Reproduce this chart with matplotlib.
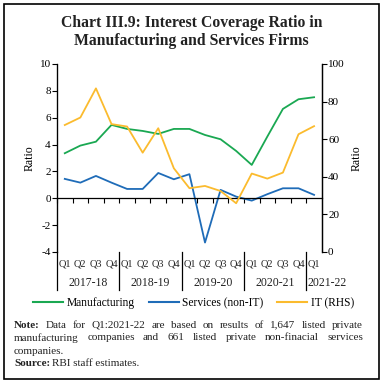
import numpy as np
import matplotlib
matplotlib.use("Agg")
import matplotlib.pyplot as plt
from matplotlib.patches import Rectangle
from matplotlib.lines import Line2D

plt.rcParams['font.family'] = ['Liberation Serif', 'DejaVu Serif']
plt.rcParams['axes.unicode_minus'] = False

# quarterly data, Q1 2017-18 .. Q1 2021-22
quarters = ['Q1', 'Q2', 'Q3', 'Q4'] * 4 + ['Q1']
years = ['2017-18', '2018-19', '2019-20', '2020-21', '2021-22']
manufacturing = [3.35, 3.92, 4.21, 5.46, 5.16, 5.01, 4.79, 5.16, 5.16,
                 4.71, 4.39, 3.52, 2.48, 4.59, 6.65, 7.37, 7.52]
services = [1.44, 1.16, 1.66, 1.16, 0.69, 0.69, 1.88, 1.41, 1.79,
            -3.3, 0.62, 0.12, -0.18, 0.3, 0.74, 0.74, 0.25]
it_rhs = [67.5, 71.5, 87.0, 68.0, 66.7, 52.8, 65.8, 44.5, 33.9,
          35.1, 32.4, 25.9, 41.7, 39.0, 42.2, 62.6, 66.9]

green = '#1aa852'
blue = '#1f6cb8'
yellow = '#fbbb2e'

fig = plt.figure(figsize=(3.85, 3.87), dpi=100)
fig.patches.append(Rectangle((0.0104, 0.0207), 0.974, 0.969, transform=fig.transFigure,
                             fill=False, edgecolor='black', linewidth=1.2))

fig.text(0.497, 0.918, 'Chart III.9: Interest Coverage Ratio in\nManufacturing and Services Firms',
         ha='center', va='center', fontsize=11.3, fontweight='bold', color='#222222',
         linespacing=1.15)

ax = fig.add_axes([0.148, 0.349, 0.688, 0.4858])
x = np.arange(len(quarters))
ax.plot(x, manufacturing, color=green, lw=1.3)
ax.plot(x, services, color=blue, lw=1.3)
ax.set_xlim(-0.5, len(quarters) - 0.5)
ax.set_ylim(-4, 10)
ax.set_yticks(range(-4, 11, 2))
ax.spines['top'].set_visible(False)
ax.spines['bottom'].set_position(('data', 0))
ax.set_xticks(np.arange(-0.5, len(quarters) - 1, 1))
ax.set_xticklabels([])
ax.tick_params(axis='x', direction='out', length=3.5, width=0.8)
ax.tick_params(axis='y', direction='out', length=3.5, width=0.8, labelsize=8, pad=1)
ax.set_ylabel('Ratio', fontsize=8.5, labelpad=3)
for s in ['left', 'right', 'bottom']:
    ax.spines[s].set_linewidth(0.9)

ax2 = ax.twinx()
ax2.plot(x, it_rhs, color=yellow, lw=1.3)
ax2.set_ylim(0, 100)
ax2.set_yticks(range(0, 101, 20))
ax2.spines['top'].set_visible(False)
ax2.spines['bottom'].set_visible(False)
ax2.spines['right'].set_linewidth(0.9)
ax2.tick_params(axis='y', direction='out', length=3.5, width=0.8, labelsize=8, pad=1)
ax2.set_ylabel('Ratio', fontsize=8.5, labelpad=4)

# category labels below the plot
tr = ax.get_xaxis_transform()
for i, q in enumerate(quarters):
    ax.text(i, -0.064, q, transform=tr, ha='center', va='center', fontsize=7.5, color='#222222')
for k, yr in enumerate(years):
    start = 4 * k
    end = min(4 * k + 4, len(quarters))
    if end - start < 4:
        # last, single-quarter year: label starts at the separator
        ax.text(start - 0.45, -0.165, yr, transform=tr, ha='left', va='center',
                fontsize=8.5, color='#222222')
    else:
        ax.text((start + end - 1) / 2, -0.165, yr, transform=tr, ha='center', va='center',
                fontsize=8.5, color='#222222')
for b in range(0, len(quarters), 4):
    ax.add_line(Line2D([b - 0.5, b - 0.5], [0, -0.205], transform=tr, color='black',
                       lw=0.9, clip_on=False))

handles = [Line2D([], [], color=green, lw=1.5), Line2D([], [], color=blue, lw=1.5),
           Line2D([], [], color=yellow, lw=1.5)]
fig.legend(handles, ['Manufacturing', 'Services (non-IT)', 'IT (RHS)'], loc='center',
           bbox_to_anchor=(0.503, 0.217), ncol=3, frameon=False, fontsize=8.3,
           handlelength=2.6, handletextpad=0.3, columnspacing=1.2)

# justified note text
renderer = fig.canvas.get_renderer()
x0, x1 = 14 / 385, 363 / 385
note_lines = [
    ([('Note:', 'bold')] + [(w, 'normal') for w in
      'Data for Q1:2021-22 are based on results of 1,647 listed private'.split()], True),
    ([(w, 'normal') for w in
      'manufacturing companies and 661 listed private non-finacial services'.split()], True),
    ([('companies.', 'normal')], False),
    ([('Source:', 'bold'), ('RBI staff estimates.', 'normal')], False),
]
ys = [1 - 325 / 387, 1 - 338 / 387, 1 - 351 / 387, 1 - 363 / 387]
for (words, just), yy in zip(note_lines, ys):
    texts = [fig.text(x0, yy, w, fontsize=8, fontweight=fw, va='center', ha='left',
                      color='#222222') for w, fw in words]
    widths = [t.get_window_extent(renderer).width / fig.bbox.width for t in texts]
    space = 0.006
    if just and len(texts) > 1:
        space = (x1 - x0 - sum(widths)) / (len(texts) - 1)
    pos = x0
    for t, w in zip(texts, widths):
        t.set_x(pos)
        pos += w + space

fig.savefig('out.png', dpi=100)
